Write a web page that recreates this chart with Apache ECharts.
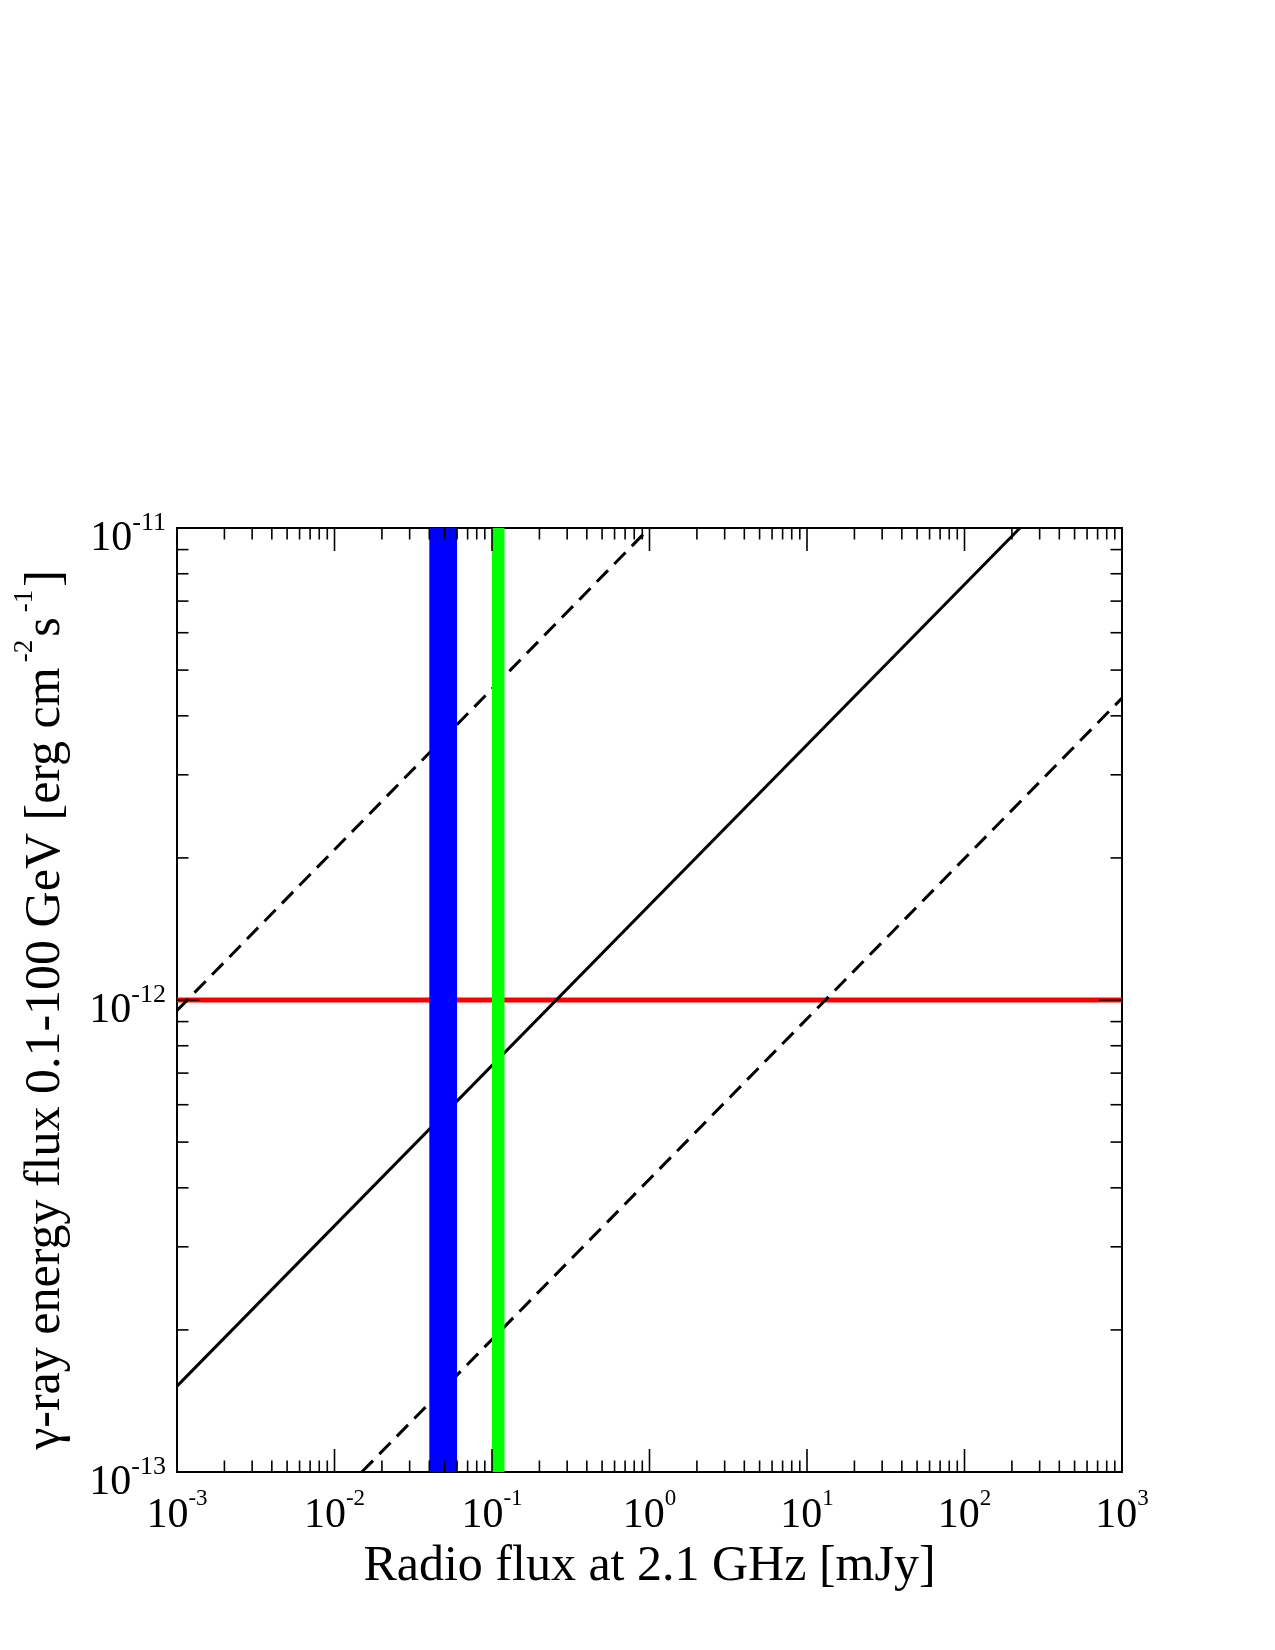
<!DOCTYPE html>
<html>
<head>
<meta charset="utf-8">
<script src="https://cdn.jsdelivr.net/npm/echarts@6/dist/echarts.min.js"></script>
<style>
html, body { margin: 0; padding: 0; background: #fff; }
#chart { width: 1275px; height: 1650px; }
</style>
</head>
<body>
<div id="chart"></div>
<script>
// axis ranges
var xRange = [1e-3, 1e3];
var yRange = [1e-13, 1e-11];

// decades and minor multipliers used for the tick marks
var xDecades = [1e-3, 1e-2, 1e-1, 1e0, 1e1, 1e2, 1e3];
var yDecades = [1e-13, 1e-12, 1e-11];
var minorSteps = [2, 3, 4, 5, 6, 7, 8, 9];

// lines (two end points each, straight in log-log)
var redLine = [[1e-3, 1e-12], [1e3, 1e-12]];
var solidLine = [[1e-3, 1.52e-13], [225, 1e-11]];
var upperDashed = [[1e-3, 9.5e-13], [1.0, 1e-11]];
var lowerDashed = [[0.0149, 1e-13], [1e3, 4.36e-12]];

// vertical bands (radio flux ranges)
var blueBand = [0.04, 0.06];
var greenBand = [0.10, 0.12];

var FONT = 'Liberation Serif';
var MAJOR_LEN = 23, MINOR_LEN = 11.5;

function minorOf(decades){
    var out = [];
    for (var i = 0; i < decades.length - 1; i++) {
        minorSteps.forEach(function(k){ out.push(k * decades[i]); });
    }
    return out;
}

var xTicks = xDecades.map(function(v){ return [v, yRange[0], MAJOR_LEN]; })
    .concat(minorOf(xDecades).map(function(v){ return [v, yRange[0], MINOR_LEN]; }));
var yTicks = yDecades.map(function(v){ return [xRange[0], v, MAJOR_LEN]; })
    .concat(minorOf(yDecades).map(function(v){ return [xRange[0], v, MINOR_LEN]; }));

function powLabel(v){
    var e = Math.round(Math.log(v) / Math.LN10);
    return '{b|10}{s|' + (e < 0 ? '-' + (-e) : e) + '}';
}

function richFor(supSize){
    return {
        b: { fontFamily: FONT, fontSize: 42, lineHeight: 50, verticalAlign: 'bottom', color: '#000' },
        s: { fontFamily: FONT, fontSize: supSize, lineHeight: supSize, verticalAlign: 'top', color: '#000' }
    };
}

var tickStyle = { stroke: '#000', lineWidth: 1.6 };

var option = {
    backgroundColor: '#fff',
    animation: false,
    grid: {
        left: 177, right: 153, top: 528, bottom: 178,
        show: true, borderColor: '#000', borderWidth: 2,
        containLabel: false
    },
    xAxis: {
        type: 'log', logBase: 10,
        min: xRange[0], max: xRange[1], interval: 1,
        axisLine: { show: false },
        axisTick: { show: false },
        splitLine: { show: false },
        axisLabel: { margin: 15, formatter: powLabel, rich: richFor(23) },
        name: 'Radio flux at 2.1 GHz [mJy]',
        nameLocation: 'middle',
        nameGap: 62,
        nameTextStyle: { fontFamily: FONT, fontSize: 50, color: '#000' }
    },
    yAxis: {
        type: 'log', logBase: 10,
        min: yRange[0], max: yRange[1], interval: 1,
        axisLine: { show: false },
        axisTick: { show: false },
        splitLine: { show: false },
        axisLabel: { margin: 11, padding: [14, 0, 0, 0], formatter: powLabel, rich: richFor(26) },
        name: '{t|γ-ray energy flux 0.1-100 GeV [erg cm}{s|-2}{t|s}{s|-1}{t|]}',
        nameLocation: 'middle',
        nameRotate: 90,
        nameGap: 106,
        nameTextStyle: {
            padding: [0, 20, 0, 0],
            rich: {
                t: { fontFamily: FONT, fontSize: 50, lineHeight: 60, verticalAlign: 'bottom', color: '#000' },
                s: { fontFamily: FONT, fontSize: 27, lineHeight: 27, verticalAlign: 'top', color: '#000', padding: [0, 3, 0, 5] }
            }
        }
    },
    series: [
        {
            type: 'line', data: redLine, symbol: 'none', z: 2,
            lineStyle: { color: '#ff0000', width: 5 }
        },
        {
            type: 'line', data: solidLine, symbol: 'none', z: 3,
            lineStyle: { color: '#000', width: 3 }
        },
        {
            type: 'line', data: upperDashed, symbol: 'none', z: 3,
            lineStyle: { color: '#000', width: 3, type: [16, 9] }
        },
        {
            type: 'line', data: lowerDashed, symbol: 'none', z: 3,
            lineStyle: { color: '#000', width: 3, type: [16, 9] }
        },
        {
            type: 'custom', z: 4, data: [blueBand], encode: { x: [0, 1] },
            renderItem: function(params, api){
                var p0 = api.coord([api.value(0), yRange[1]]);
                var p1 = api.coord([api.value(1), yRange[0]]);
                return { type: 'rect', shape: { x: p0[0], y: p0[1], width: p1[0] - p0[0], height: p1[1] - p0[1] },
                    style: { fill: '#0000ff' } };
            }
        },
        {
            type: 'custom', z: 4, data: [greenBand], encode: { x: [0, 1] },
            renderItem: function(params, api){
                var p0 = api.coord([api.value(0), yRange[1]]);
                var p1 = api.coord([api.value(1), yRange[0]]);
                return { type: 'rect', shape: { x: p0[0], y: p0[1], width: p1[0] - p0[0], height: p1[1] - p0[1] },
                    style: { fill: '#00ff00' } };
            }
        },
        {
            // x ticks, bottom and top, pointing inward
            type: 'custom', z: 5, data: xTicks, encode: { x: 0, y: 1 },
            renderItem: function(params, api){
                var v = api.value(0), len = api.value(2);
                var b = api.coord([v, yRange[0]]);
                var t = api.coord([v, yRange[1]]);
                return { type: 'group', children: [
                    { type: 'line', shape: { x1: b[0], y1: b[1], x2: b[0], y2: b[1] - len }, style: tickStyle },
                    { type: 'line', shape: { x1: t[0], y1: t[1], x2: t[0], y2: t[1] + len }, style: tickStyle }
                ]};
            }
        },
        {
            // y ticks, left and right, pointing inward
            type: 'custom', z: 5, data: yTicks, encode: { x: 0, y: 1 },
            renderItem: function(params, api){
                var v = api.value(1), len = api.value(2);
                var l = api.coord([xRange[0], v]);
                var r = api.coord([xRange[1], v]);
                return { type: 'group', children: [
                    { type: 'line', shape: { x1: l[0], y1: l[1], x2: l[0] + len, y2: l[1] }, style: tickStyle },
                    { type: 'line', shape: { x1: r[0], y1: r[1], x2: r[0] - len, y2: r[1] }, style: tickStyle }
                ]};
            }
        }
    ]
};

var chart = echarts.init(document.getElementById('chart'));
chart.setOption(option);
</script>
</body>
</html>
